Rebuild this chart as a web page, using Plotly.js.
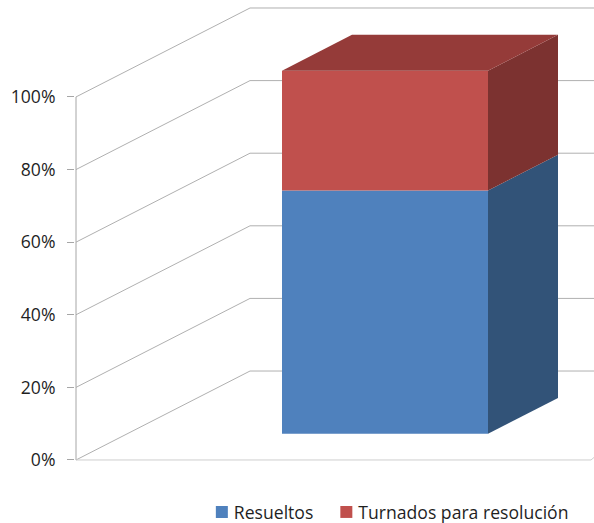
<!DOCTYPE html>
<html>
<head>
<meta charset="utf-8">
<script src="https://cdn.plot.ly/plotly-3.0.1.min.js"></script>
<style>html,body{margin:0;padding:0;background:#fff}#chart{width:594px;height:523px}</style>
</head>
<body>
<div id="chart"></div>
<script>
// Data
var categories = ['Asuntos'];
var seriesNames = ['Resueltos', 'Turnados para resolución'];
var resueltos = [67];
var turnados = [33];
var tickVals = [0, 20, 40, 60, 80, 100];
var tickText = ['0%', '20%', '40%', '60%', '80%', '100%'];

// Oblique-projection geometry (axis units)
var wallDx = 174, wallDy = 24.5;
var barLeft = 206, barWidth = 206, barLift = 7.2, barDx = 70, barDy = 9.9;
var xEnd = 518;

var gridColor = '#b0b0b0';
var shapes = tickVals.map(function (v) {
  return {
    type: 'path', layer: 'below', xref: 'x', yref: 'y',
    path: 'M0,' + v + ' L' + wallDx + ',' + (v + wallDy) + ' L' + xEnd + ',' + (v + wallDy),
    line: { color: gridColor, width: 1 }
  };
});
// Value axis and floor edge
shapes.push({ type: 'line', layer: 'below', xref: 'x', yref: 'y', x0: 0, x1: 0, y0: 0, y1: 100, line: { color: '#a6a6a6', width: 1 } });
shapes.push({ type: 'path', layer: 'below', xref: 'x', yref: 'y', path: 'M0,0 L515,0 L518,0.7', line: { color: '#cfcfcf', width: 1 } });

function face(xs, ys, color) {
  return {
    type: 'scatter', mode: 'lines', x: xs, y: ys, fill: 'toself', fillcolor: color,
    line: { width: 0, color: color }, showlegend: false, hoverinfo: 'skip'
  };
}

var b0 = barLift, b1 = barLift + resueltos[0], b2 = b1 + turnados[0];
var xr = barLeft + barWidth;
var xMid = barLeft + barWidth / 2;

var traces = [
  { type: 'bar', name: seriesNames[0], x: [xMid], y: resueltos, base: [b0], width: barWidth, marker: { color: '#4f81bd', line: { width: 0 } } },
  { type: 'bar', name: seriesNames[1], x: [xMid], y: turnados, base: [b1], width: barWidth, marker: { color: '#c0504d', line: { width: 0 } } },
  face([xr, xr + barDx, xr + barDx, xr, xr], [b0, b0 + barDy, b1 + barDy, b1, b0], '#325378'),
  face([xr, xr + barDx, xr + barDx, xr, xr], [b1, b1 + barDy, b2 + barDy, b2, b1], '#7c3230'),
  face([barLeft, xr, xr + barDx, barLeft + barDx, barLeft], [b2, b2, b2 + barDy, b2 + barDy, b2], '#953b39')
];

var layout = {
  width: 594, height: 523,
  margin: { l: 75, r: 0, t: 0, b: 0 },
  paper_bgcolor: '#fff', plot_bgcolor: '#fff',
  barmode: 'overlay',
  font: { family: '"Open Sans", sans-serif', color: '#1f1f1f', size: 17.6 },
  xaxis: { range: [-1, xEnd], showgrid: false, zeroline: false, showticklabels: false, ticks: '', showline: false, fixedrange: true },
  yaxis: {
    range: [-17.36, 126.7], showgrid: false, zeroline: false, showline: false, fixedrange: true,
    tickmode: 'array', tickvals: tickVals, ticktext: tickText,
    ticks: 'outside', ticklen: 7, tickwidth: 1, tickcolor: '#a6a6a6',
    ticklabelstandoff: 8,
    tickfont: { size: 17.6, color: '#1f1f1f' }
  },
  shapes: shapes,
  showlegend: true,
  legend: {
    orientation: 'h', xref: 'paper', yref: 'paper', x: 0.229, y: 0,
    xanchor: 'left', yanchor: 'bottom', borderwidth: 0, bgcolor: 'rgba(0,0,0,0)',
    font: { size: 17.6, color: '#1f1f1f' }, traceorder: 'normal', itemclick: false, itemdoubleclick: false
  }
};

Plotly.newPlot('chart', traces, layout, { displayModeBar: false, staticPlot: true }).then(function (gd) {
  // Legend swatches sit closer to their labels in the reference
  gd.querySelectorAll('.legend .legendsymbols').forEach(function (s) {
    s.setAttribute('transform', 'translate(8,0)');
  });
  // Legend sits lower than the plot-area limit allows without shrinking the plot
  var lg = gd.querySelector('.legend');
  var m = /translate\(\s*([-\d.]+)[ ,]+([-\d.]+)\s*\)/.exec(lg.getAttribute('transform'));
  if (m) lg.setAttribute('transform', 'translate(' + m[1] + ',' + (parseFloat(m[2]) + 7) + ')');
});
</script>
</body>
</html>
